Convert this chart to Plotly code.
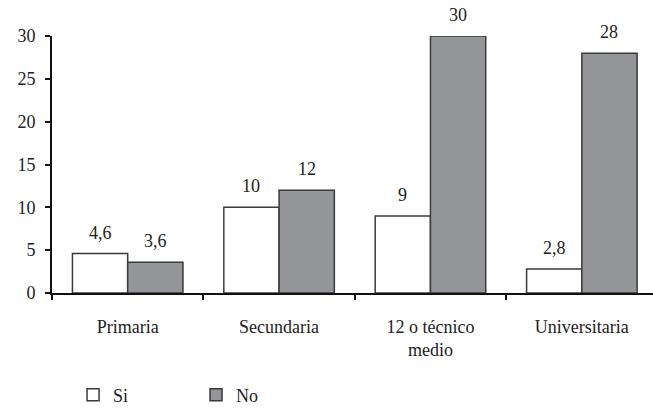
import plotly.graph_objects as go

# Education level categories and responses
categories = ["Primaria", "Secundaria", "12 o técnico medio", "Universitaria"]
tick_labels = ["Primaria", "Secundaria", "12 o técnico<br>medio", "Universitaria"]
si_values = [4.6, 10, 9, 2.8]
no_values = [3.6, 12, 30, 28]
y_ticks = [0, 5, 10, 15, 20, 25, 30]

FONT = "Liberation Serif, Times New Roman, serif"
BAR_GAP = 0.27
HALF = (1 - BAR_GAP) / 4  # centre offset of each bar within a group


def fmt(v):
    s = ("%g" % v)
    return s.replace(".", ",")


fig = go.Figure()
fig.add_trace(go.Bar(
    name="Si", x=categories, y=si_values,
    marker=dict(color="white", line=dict(color="#3a3a3a", width=1.5)),
))
fig.add_trace(go.Bar(
    name="No", x=categories, y=no_values,
    marker=dict(color="#939598", line=dict(color="#3a3a3a", width=1.5)),
))

# Value labels above each bar
for i, (s, n) in enumerate(zip(si_values, no_values)):
    for xpos, val in ((i - HALF, s), (i + HALF, n)):
        fig.add_annotation(
            x=xpos, y=val, text=fmt(val), showarrow=False,
            xref="x", yref="y", yanchor="bottom", yshift=9,
            font=dict(family=FONT, size=18, color="#222"),
        )

fig.update_layout(
    width=653, height=409,
    margin=dict(l=52, r=0, t=36, b=116, autoexpand=False),
    paper_bgcolor="white", plot_bgcolor="white",
    barmode="group", bargap=BAR_GAP, bargroupgap=0,
    font=dict(family=FONT, size=18, color="#222"),
    showlegend=True,
    legend=dict(
        orientation="h", x=0.035, xanchor="left", y=-0.325, yanchor="top",
        font=dict(family=FONT, size=18, color="#222"),
        entrywidth=78, entrywidthmode="pixels",
        bgcolor="rgba(0,0,0,0)",
    ),
)
fig.update_xaxes(
    type="category", range=[-0.5, 3.47],
    tickvals=categories, ticktext=tick_labels,
    tickson="boundaries", ticks="outside", ticklen=5, tickwidth=2, tickcolor="#111",
    showline=True, linecolor="#111", linewidth=2,
    showgrid=False, ticklabelstandoff=16,
)
fig.update_yaxes(
    range=[0, 30], tickvals=y_ticks,
    ticks="outside", ticklen=5, tickwidth=2, tickcolor="#111",
    showline=True, linecolor="#111", linewidth=2,
    showgrid=False, zeroline=False, ticklabelstandoff=6,
)

fig.write_html("out.html")
